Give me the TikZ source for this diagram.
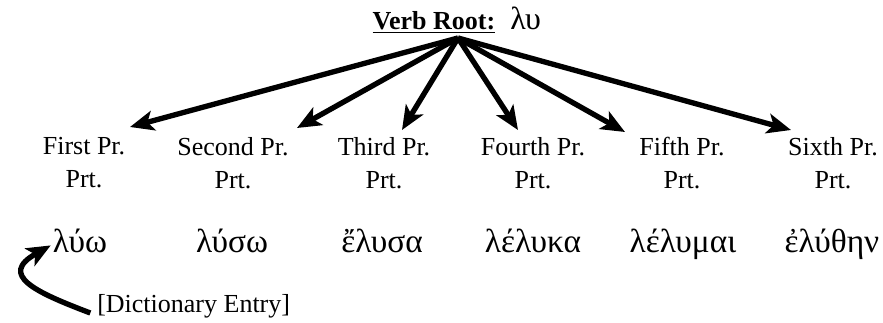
\documentclass[tikz,border=0pt]{standalone}
\usepackage{fontspec}
\setmainfont{Liberation Serif}
\usepackage{tikz}
\usetikzlibrary{arrows.meta,positioning}

\begin{document}
\begin{tikzpicture}[x=0.75pt, y=-0.75pt,
    >={Stealth[length=18pt, width=15pt, inset=4.5pt]},
    font=\fontsize{19.5}{24.75}\selectfont,
    stem/.style={->, line width=4pt},
    prtlabel/.style={anchor=north, inner sep=0pt, align=center},
    greekform/.style={anchor=base, inner sep=0pt, font=\fontsize{25}{28}\selectfont}]
  \useasboundingbox (0,0) rectangle (883,323);
  % root of the verb
  \node[anchor=base, inner sep=0pt] (root) at (434,30) {\textbf{\underline{Verb Root:}}};
  \node[anchor=base west, inner sep=0pt, font=\fontsize{24}{28}\selectfont] (rootgr) at (510,30) {λυ};
  \coordinate (hub) at (458,38);
  % principal part labels
  \foreach \name/\x/\lbl in {p1/84/First, p2/233/Second, p3/384/Third,
                             p4/533/Fourth, p5/682/Fifth, p6/833/Sixth}
    \node[prtlabel] (\name) at (\x,137) {\lbl\ Pr.\\Prt.};
  % arrows from the root
  \foreach \tip/\x/\y in {t1/130/127, t2/297/128, t3/402/130,
                          t4/518/130, t5/625/132, t6/791/130} {
    \coordinate (\tip) at (\x,\y);
    \draw[stem] (hub) -- (\tip);
  }
  % the six forms
  \foreach \name/\x/\form in {f1/80/λύω, f2/232/λύσω, f3/382/ἔλυσα,
                              f4/533/λέλυκα, f5/683/λέλυμαι, f6/832/ἐλύθην}
    \node[greekform] (\name) at (\x,253) {\form};
  % dictionary entry
  \node[anchor=base west, inner sep=0pt] (dict) at (97,313) {[Dictionary Entry]};
  \draw[stem] ([xshift=-5]dict.base west) .. controls (35,292) and (-2,275) .. ([shift={(-2,4)}]f1.west);
\end{tikzpicture}
\end{document}
